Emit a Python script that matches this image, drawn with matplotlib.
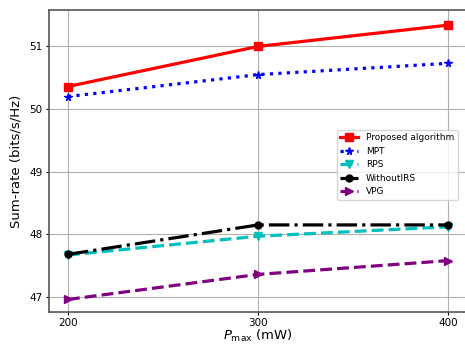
import matplotlib
matplotlib.use('Agg')
import matplotlib.pyplot as plt

pmax = [200, 300, 400]
proposed = [50.36, 51.0, 51.34]
mpt = [50.2, 50.55, 50.73]
rps = [47.67, 47.97, 48.12]
without_irs = [47.68, 48.15, 48.15]
vpg = [46.96, 47.36, 47.58]

fig = plt.figure(figsize=(4.65, 3.45), dpi=100)
ax = fig.add_axes([0.1054, 0.0957, 0.899, 0.875])

ax.plot(pmax, proposed, 'rs-', lw=2.3, ms=5.5, label='Proposed algorithm')
ax.plot(pmax, mpt, 'b*:', lw=2.3, ms=5.5, label='MPT')
ax.plot(pmax, rps, 'cv--', lw=2.3, ms=5.5, label='RPS')
ax.plot(pmax, without_irs, 'ko-.', lw=2.3, ms=5, label='WithoutIRS')
ax.plot(pmax, vpg, '>--', color='purple', lw=2.3, ms=5.5, label='VPG')

ax.set_xlim(190, 410)
ax.set_ylim(46.76, 51.58)
ax.set_xticks(pmax)
ax.set_yticks([47, 48, 49, 50, 51])
ax.tick_params(labelsize=7.5, length=2.5, pad=2)
ax.grid(True, color='#b0b0b0', lw=0.8)
for s in ax.spines.values():
    s.set_color('#555555')
    s.set_linewidth(1.2)

ax.set_xlabel('$P_{\\max}$ (mW)', fontsize=9.5, labelpad=0)
ax.set_ylabel('Sum-rate (bits/s/Hz)', fontsize=9.5, labelpad=5)
ax.legend(loc='upper right', bbox_to_anchor=(0.988, 0.619), fontsize=6.5)

fig.savefig('out.png', dpi=100)
